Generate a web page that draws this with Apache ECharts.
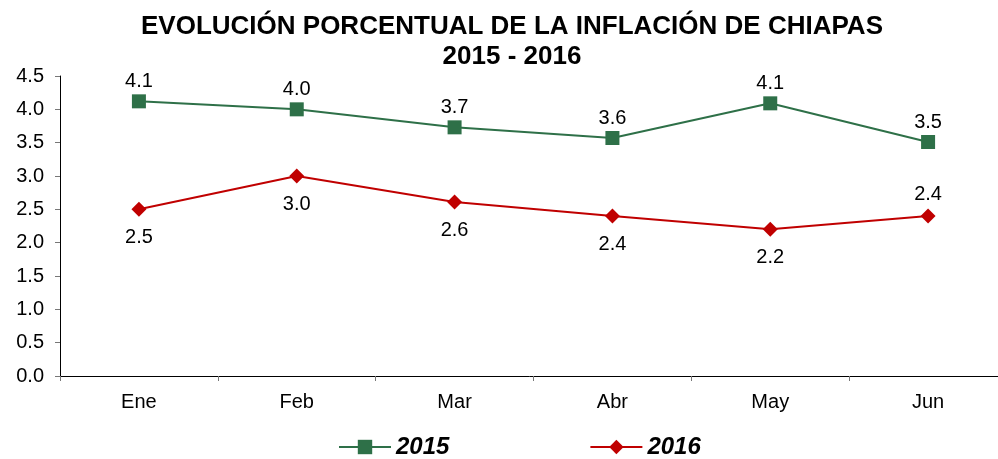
<!DOCTYPE html>
<html><head><meta charset="utf-8">
<script src="https://cdn.jsdelivr.net/npm/echarts@6/dist/echarts.min.js"></script>
<style>html,body{margin:0;padding:0;background:#fff}#c{width:998px;height:459px}</style>
</head><body><div id="c"></div>
<script>
const categories = ['Ene','Feb','Mar','Abr','May','Jun'];
const values2015 = [4.12, 4.00, 3.73, 3.57, 4.09, 3.51];
const values2016 = [2.50, 3.00, 2.61, 2.40, 2.20, 2.40];
const labelPos2016 = ['bottom','bottom','bottom','bottom','bottom','top'];
const yTicks = ['0.0','0.5','1.0','1.5','2.0','2.5','3.0','3.5','4.0','4.5'];

const chart = echarts.init(document.getElementById('c'));
const font = 'Arial, "Liberation Sans", sans-serif';
chart.setOption({
  animation: false,
  title: {
    text: 'EVOLUCIÓN PORCENTUAL DE LA INFLACIÓN DE CHIAPAS\n2015 - 2016',
    left: 507, top: 7, textAlign: 'center',
    textStyle: {fontFamily: font, fontSize: 26, fontWeight: 'bold', color: '#000', lineHeight: 30}
  },
  legend: {
    top: 435, left: 338, padding: 0, itemGap: 140, itemWidth: 52, itemHeight: 18,
    textStyle: {fontFamily: font, fontSize: 24, fontWeight: 'bold', fontStyle: 'italic', color: '#000'},
    data: ['2015','2016']
  },
  grid: {left: 60, top: 76, bottom: 83, width: 947, outerBoundsMode: 'none', containLabel: false},
  xAxis: {
    type: 'category', data: categories, boundaryGap: true,
    axisLine: {lineStyle: {color: '#000', width: 1}},
    axisTick: {show: true, length: 5, lineStyle: {color: '#777'}},
    axisLabel: {fontFamily: font, fontSize: 20, color: '#000', margin: 16}
  },
  yAxis: {
    type: 'value', min: 0, max: 4.5, interval: 0.5,
    axisLine: {show: true, lineStyle: {color: '#000', width: 1}},
    axisTick: {show: true, length: 5, lineStyle: {color: '#777'}},
    splitLine: {show: false},
    axisLabel: {fontFamily: font, fontSize: 20, color: '#000', margin: 16,
      formatter: (v) => yTicks[Math.round(v / 0.5)] }
  },
  series: [
    {
      name: '2015', type: 'line', data: values2015,
      symbol: 'rect', symbolSize: 14,
      lineStyle: {color: '#2E7048', width: 2},
      itemStyle: {color: '#2E7048'},
      label: {show: true, position: 'top', distance: 3, fontFamily: font, fontSize: 20, color: '#000',
        formatter: (p) => p.value.toFixed(1)}
    },
    {
      name: '2016', type: 'line',
      data: values2016.map((v, i) => ({value: v, label: {position: labelPos2016[i], distance: labelPos2016[i] === 'top' ? 4 : 11}})),
      symbol: 'diamond', symbolSize: 15,
      lineStyle: {color: '#C00000', width: 2},
      itemStyle: {color: '#C00000'},
      label: {show: true, fontFamily: font, fontSize: 20, color: '#000',
        formatter: (p) => p.value.toFixed(1)}
    }
  ]
});
</script></body></html>
